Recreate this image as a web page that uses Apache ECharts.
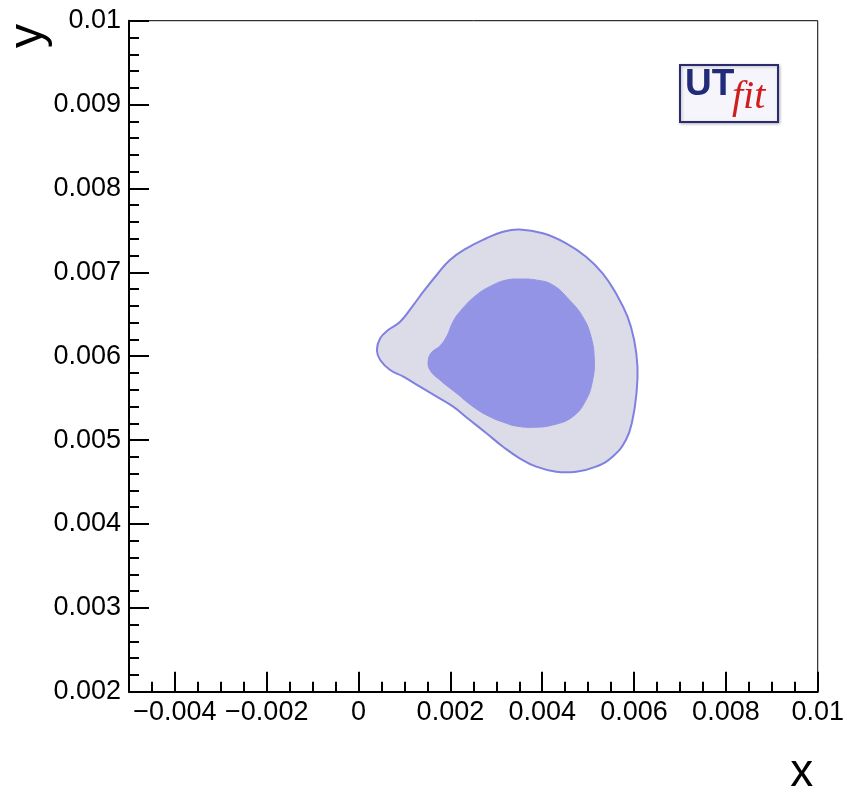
<!DOCTYPE html>
<html>
<head>
<meta charset="utf-8">
<script src="https://cdn.jsdelivr.net/npm/echarts@6/dist/echarts.min.js"></script>
<style>
html,body{margin:0;padding:0;background:#fff;}
#chart{width:847px;height:795px;}
</style>
</head>
<body>
<div id="chart"></div>
<script>
// ---- data ----
const xTickLabels = [-0.004, -0.002, 0, 0.002, 0.004, 0.006, 0.008, 0.01];
const yTickLabels = [0.002, 0.003, 0.004, 0.005, 0.006, 0.007, 0.008, 0.009, 0.01];

// outer (95%) contour
const outerX = [0.003508, 0.004013, 0.004521, 0.004954, 0.005315, 0.005605, 0.005857, 0.006002, 0.006074, 0.006052,
  0.005965, 0.005822, 0.005531, 0.005171, 0.004738, 0.004304, 0.003870, 0.003508, 0.003145, 0.002785,
  0.002423, 0.002061, 0.001701, 0.001338, 0.000976, 0.000688, 0.000471, 0.000399, 0.000471, 0.000644,
  0.000905, 0.001193, 0.001410, 0.001701, 0.001989, 0.002351, 0.002785, 0.003145];
const outerY = [0.007511, 0.007465, 0.007346, 0.007186, 0.006988, 0.006750, 0.006471, 0.006193, 0.005875, 0.005558,
  0.005239, 0.005001, 0.004802, 0.004683, 0.004623, 0.004623, 0.004683, 0.004783, 0.004921, 0.005081,
  0.005239, 0.005398, 0.005517, 0.005636, 0.005756, 0.005835, 0.005955, 0.006074, 0.006213, 0.006312,
  0.006411, 0.006610, 0.006769, 0.006968, 0.007147, 0.007286, 0.007406, 0.007484];

// inner (68%) contour
const innerX = [0.003508, 0.003870, 0.004230, 0.004592, 0.004881, 0.005063, 0.005134, 0.005098, 0.004954, 0.004664,
  0.004230, 0.003796, 0.003421, 0.003219, 0.002857, 0.002495, 0.002134, 0.001772, 0.001555, 0.001518,
  0.001599, 0.001772, 0.001924, 0.002054, 0.002206, 0.002568, 0.002928, 0.003219];
const innerY = [0.006920, 0.006908, 0.006849, 0.006670, 0.006471, 0.006233, 0.005955, 0.005716, 0.005478, 0.005279,
  0.005180, 0.005152, 0.005168, 0.005200, 0.005279, 0.005398, 0.005558, 0.005716, 0.005835, 0.005955,
  0.006050, 0.006122, 0.006241, 0.006408, 0.006531, 0.006730, 0.006849, 0.006908];

// ---- chart ----
const FONT = "'Liberation Sans', Arial, Helvetica, sans-serif";
const fmt = v => String(+(+v).toFixed(6)).replace('-', '\u2212');
const toPairs = (xs, ys) => xs.map((x, i) => [x, ys[i]]);

const outerPts = toPairs(outerX, outerY);
const innerPts = toPairs(innerX, innerY);

function makeRender(pts, fill, stroke, lw) {
  return function (params, api) {
    if (params.dataIndex !== 0) return null;
    const p = pts.map(q => api.coord(q));
    return {
      type: 'polygon',
      shape: { points: p, smooth: 0.45 },
      style: { fill: fill, stroke: stroke, lineWidth: lw }
    };
  };
}

const chart = echarts.init(document.getElementById('chart'), null, { renderer: 'canvas' });
chart.setOption({
  animation: false,
  backgroundColor: '#ffffff',
  grid: {
    left: 129, right: 28.7, top: 20.7, bottom: 103.3,
    show: true, borderColor: '#000', borderWidth: 1, backgroundColor: 'transparent'
  },
  xAxis: [{
    type: 'value', min: -0.005, max: 0.01, interval: 0.0005,
    position: 'bottom',
    axisLine: { show: true, onZero: false, lineStyle: { color: '#000', width: 2 } },
    axisTick: { show: true, inside: true, length: 10, lineStyle: { color: '#000', width: 2 } },
    axisLabel: { show: false },
    splitLine: { show: false }
  }, {
    type: 'value', min: -0.005, max: 0.01,
    position: 'bottom', offset: 0,
    axisLine: { show: false, onZero: false },
    axisTick: { show: true, inside: true, length: 20, customValues: xTickLabels, lineStyle: { color: '#000', width: 2 } },
    axisLabel: { show: true, customValues: xTickLabels, formatter: fmt, fontSize: 27, fontFamily: FONT, color: '#000', margin: 7 },
    splitLine: { show: false }
  }],
  yAxis: {
    type: 'value', min: 0.002, max: 0.01, interval: 0.001,
    axisLine: { show: true, onZero: false, lineStyle: { color: '#000', width: 2 } },
    axisTick: { show: true, inside: true, length: 20, lineStyle: { color: '#000', width: 2 } },
    minorTick: { show: true, splitNumber: 5, length: 10, lineStyle: { color: '#000', width: 2 } },
    axisLabel: { show: true, customValues: yTickLabels, formatter: fmt, fontSize: 27, fontFamily: FONT, color: '#000', margin: 8 },
    splitLine: { show: false },
    minorSplitLine: { show: false }
  },
  series: [{
    type: 'custom',
    xAxisIndex: 0,
    renderItem: makeRender(outerPts, '#dcdce8', '#8080e0', 2),
    data: outerPts,
    encode: { x: 0, y: 1 },
    clip: true,
    z: 2
  }, {
    type: 'custom',
    xAxisIndex: 0,
    renderItem: makeRender(innerPts, '#9494e6', '#9494e6', 1),
    data: innerPts,
    encode: { x: 0, y: 1 },
    clip: true,
    z: 3
  }],
  graphic: [
    {
      type: 'text', x: 801.7, y: 773, z: 10,
      style: { text: 'x', font: "46px 'Liberation Sans', Arial, sans-serif", fill: '#000', align: 'center', verticalAlign: 'middle' }
    },
    {
      type: 'text', x: 29, y: 36, rotation: Math.PI / 2, z: 10,
      style: { text: 'y', font: "48px 'Liberation Sans', Arial, sans-serif", fill: '#000', align: 'center', verticalAlign: 'middle' }
    },
    {
      type: 'group', z: 10,
      children: [
        { type: 'rect', shape: { x: 680, y: 65, width: 98, height: 57 }, style: { fill: '#f5f5fb', stroke: '#2b2b70', lineWidth: 2, shadowBlur: 3, shadowColor: 'rgba(0,0,0,0.25)', shadowOffsetX: 1, shadowOffsetY: 1 } },
        { type: 'text', x: 685, y: 85, style: { text: 'UT', font: "bold 37px 'Liberation Sans', Arial, sans-serif", fill: '#222a7a', align: 'left', verticalAlign: 'middle' } },
        { type: 'text', x: 732, y: 97, style: { text: 'fit', font: "italic 40px 'Liberation Serif', 'Times New Roman', serif", fill: '#d01c1c', align: 'left', verticalAlign: 'middle' } }
      ]
    }
  ]
});
</script>
</body>
</html>
